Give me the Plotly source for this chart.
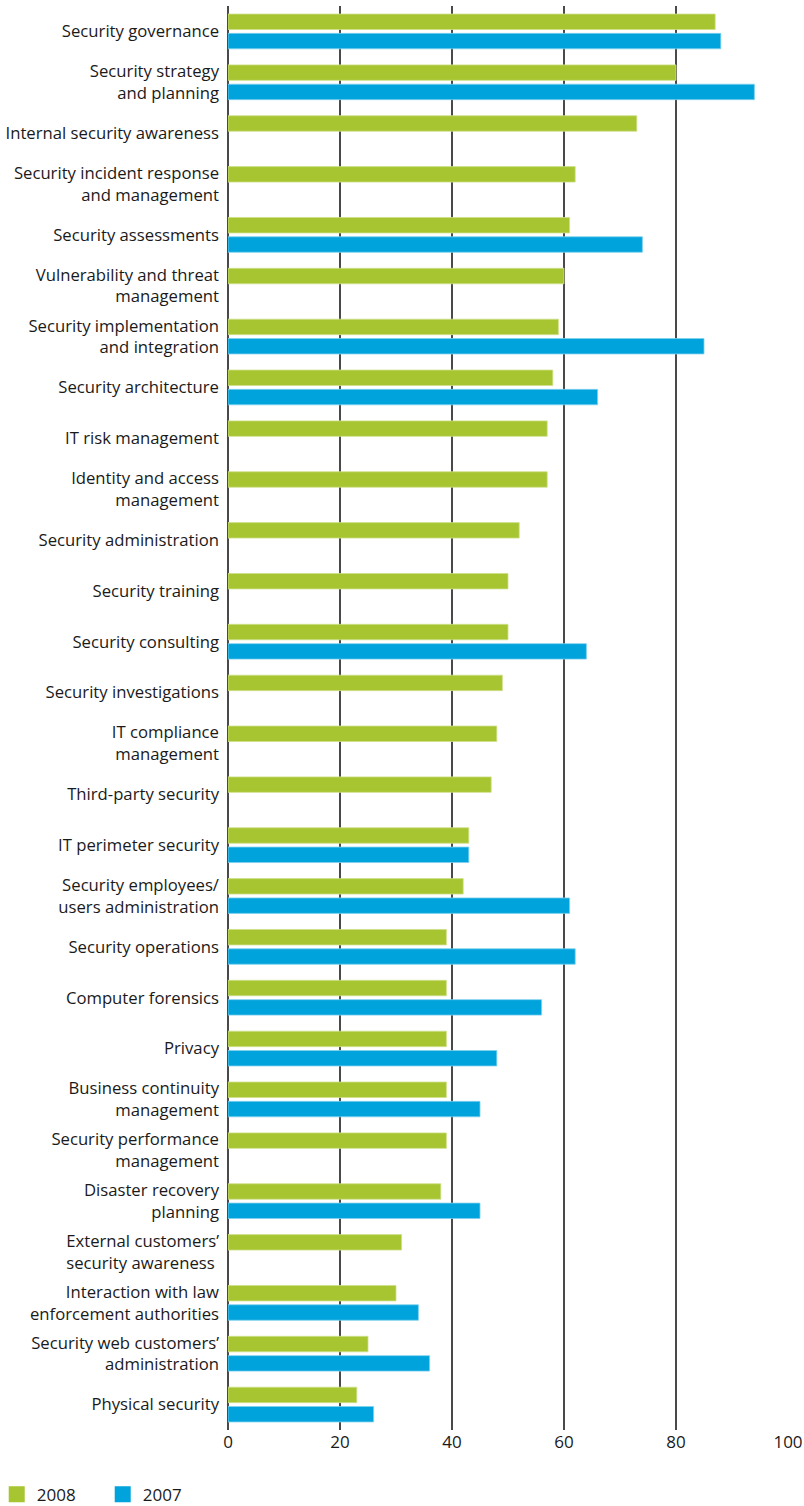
import plotly.graph_objects as go

# Categories, top to bottom
categories = [
    "Security governance",
    "Security strategy<br>and planning",
    "Internal security awareness",
    "Security incident response<br>and management",
    "Security assessments",
    "Vulnerability and threat<br>management",
    "Security implementation<br>and integration",
    "Security architecture",
    "IT risk management",
    "Identity and access<br>management",
    "Security administration",
    "Security training",
    "Security consulting",
    "Security investigations",
    "IT compliance<br>management",
    "Third-party security",
    "IT perimeter security",
    "Security employees/<br>users administration",
    "Security operations",
    "Computer forensics",
    "Privacy",
    "Business continuity<br>management",
    "Security performance<br>management",
    "Disaster recovery<br>planning",
    "External customers’<br>security awareness ",
    "Interaction with law<br>enforcement authorities",
    "Security web customers’<br>administration",
    "Physical security",
]

values_2008 = [87, 80, 73, 62, 61, 60, 59, 58, 57, 57, 52, 50, 50, 49,
               48, 47, 43, 42, 39, 39, 39, 39, 39, 38, 31, 30, 25, 23]
values_2007 = [88, 94, None, None, 74, None, 85, 66, None, None, None, None, 64, None,
               None, None, 43, 61, 62, 56, 48, 45, None, 45, None, 34, 36, 26]

x_ticks = [0, 20, 40, 60, 80, 100]

GREEN = "#a6c531"
BLUE = "#00a3dc"
TEXT = "#1a1a1a"
GRID = "#4a4a4a"
FONT = "Open Sans"

fig = go.Figure()
fig.add_trace(go.Bar(
    y=categories, x=values_2008, orientation="h", name="2008",
    marker=dict(color=GREEN, line=dict(color="#cfe08a", width=0.8)),
    showlegend=False,
))
fig.add_trace(go.Bar(
    y=categories, x=values_2007, orientation="h", name="2007",
    marker=dict(color=BLUE, line=dict(color="#7fd0ee", width=0.8)),
    showlegend=False,
))

# Legend entries with square swatches
for name, col in [("2008", GREEN), ("2007", BLUE)]:
    fig.add_trace(go.Scatter(
        x=[None], y=[None], mode="markers", name=name,
        marker=dict(symbol="square", size=16, color=col),
    ))

fig.update_layout(
    width=804, height=1506,
    margin=dict(l=228, r=16, t=6, b=76, autoexpand=False),
    paper_bgcolor="white", plot_bgcolor="white",
    barmode="group", bargap=0.24, bargroupgap=0.2,
    font=dict(family=FONT, color=TEXT, size=16.7),
    legend=dict(
        orientation="h", x=-0.413, xanchor="left", y=-0.0455, yanchor="middle",
        font=dict(size=17, color=TEXT), entrywidth=61,
        bgcolor="rgba(0,0,0,0)",
    ),
)

fig.update_xaxes(
    range=[0, 100], tickvals=x_ticks, ticks="",
    showgrid=True, gridcolor=GRID, gridwidth=1.6,
    zeroline=True, zerolinecolor=GRID, zerolinewidth=1.6,
    showline=False, tickfont=dict(size=17, color=TEXT),
)
fig.update_yaxes(
    type="category", categoryorder="array", categoryarray=categories,
    autorange="reversed", showgrid=False, zeroline=False, showline=False,
    ticks="", ticklabelstandoff=8, tickfont=dict(size=16.7, color=TEXT),
)

fig.write_html("out.html")
